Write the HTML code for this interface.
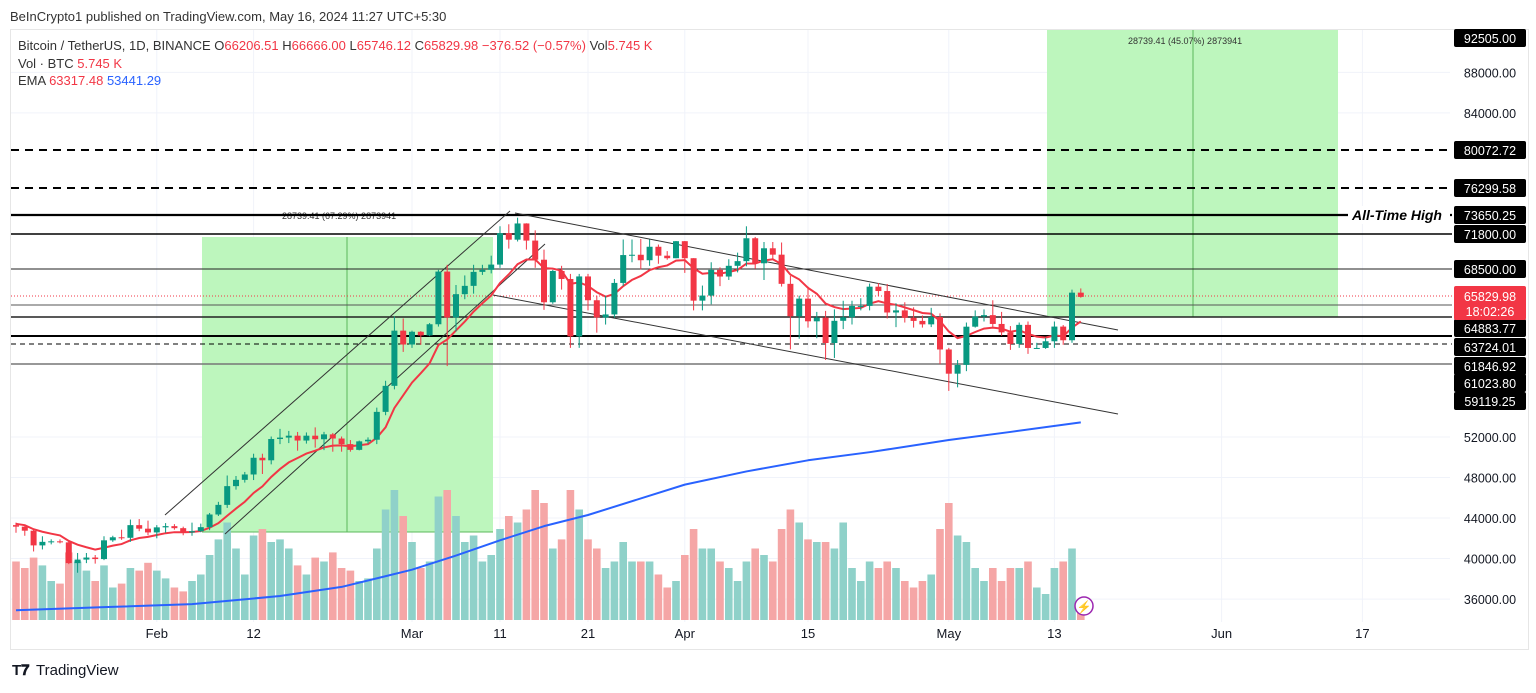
<!DOCTYPE html>
<html><head><meta charset="utf-8"><style>
body{margin:0;background:#fff;width:1536px;height:688px;overflow:hidden;font-family:"Liberation Sans",sans-serif}
svg text{font-family:"Liberation Sans",sans-serif}
</style></head><body>
<svg id="c" width="1536" height="688" viewBox="0 0 1536 688" xmlns="http://www.w3.org/2000/svg">
<text x="10" y="21" font-size="13" fill="#333">BeInCrypto1 published on TradingView.com, May 16, 2024 11:27 UTC+5:30</text>
<rect x="10.5" y="29.5" width="1518" height="620" fill="none" stroke="#e6e6e6"/>
<g id="grid"></g>
<g id="boxes"></g>
<g id="vol"></g>
<g id="lines"></g>
<g id="ema"></g>
<g id="candles"></g>
<g id="axis"></g>
<g font-size="13">
<text x="18" y="50" fill="#333">Bitcoin / TetherUS, 1D, BINANCE <tspan fill="#333">O</tspan><tspan fill="#f23645">66206.51</tspan> <tspan fill="#333">H</tspan><tspan fill="#f23645">66666.00</tspan> <tspan fill="#333">L</tspan><tspan fill="#f23645">65746.12</tspan> <tspan fill="#333">C</tspan><tspan fill="#f23645">65829.98</tspan> <tspan fill="#f23645">−376.52 (−0.57%)</tspan> <tspan fill="#333">Vol</tspan><tspan fill="#f23645">5.745 K</tspan></text>
<text x="18" y="68" fill="#333">Vol · BTC <tspan fill="#f23645">5.745 K</tspan></text>
<text x="18" y="85" fill="#333">EMA <tspan fill="#f23645">63317.48</tspan> <tspan fill="#2962ff">53441.29</tspan></text>
</g>
<g>
<text x="12" y="675" font-size="15" font-weight="bold" fill="#131722">T𝟕</text>
<text x="36" y="675" font-size="15" fill="#131722">TradingView</text>
</g>
<circle cx="1084" cy="606" r="9" fill="#fff" stroke="#9c27b0" stroke-width="1.5"/>
<text x="1084" y="611" font-size="12" fill="#9c27b0" text-anchor="middle">⚡</text>
</svg>
<script>
const closes=[43150,42750,41300,41650,41700,41600,39550,39900,40100,39950,41800,42100,42050,43300,42950,42580,
43080,43200,43000,42580,42700,43100,44350,45300,47150,47770,48300,49950,49700,51800,51940,52130,51650,52130,51780,52260,51850,51300,50730,51570,51730,54480,57050,62500,61130,
62390,62030,63130,68330,63800,66100,66920,68300,68500,69020,72120,71480,73080,71390,69500,65300,68390,67600,61930,67850,65500,63800,64100,67210,69960,69990,69450,70780,69900,69650,71330,
69650,65460,65960,68500,67840,68900,69360,71620,69150,70630,70000,67120,63920,65660,63420,63790,61280,63470,63820,64940,64940,66840,66410,64290,64500,63770,63460,63120,63840,60640,
58250,59120,62890,63890,64030,63160,62330,61190,63070,60790,60790,61450,62900,61550,66250,65830];
const highs=[43550,43200,42950,42200,41900,41900,41700,40550,40550,40350,42200,42250,42850,43850,43900,43750,
43300,43500,43400,43150,43550,43450,44500,45600,48200,48150,48550,50350,50350,52050,52800,52600,52500,52450,52950,52500,52400,52050,51700,51650,51960,54900,57550,63900,63700,
62500,62450,63250,68500,69000,67000,67950,69000,69000,69900,72800,73000,73650,73100,72400,70500,68500,68900,68100,68100,68100,65950,65950,67600,71500,71500,71550,71500,71000,70350,71350,
71350,69650,66950,69250,68750,69550,70200,72800,71750,71250,71250,71200,67900,65950,66850,64350,64450,64600,65450,65450,65700,67150,67200,67100,65200,65300,64800,64000,64750,64200,
60800,59600,63300,64500,64600,65500,64350,62950,63300,63400,61300,61800,63400,63050,66550,66666];
const lows=[42550,42250,40700,40900,41400,41500,39450,38600,39550,39500,39850,41650,41850,41650,42700,42300,
42000,42550,42850,42300,42250,42600,42800,44200,45000,46800,47500,47750,48350,49300,51300,51400,50650,51350,50950,50700,50550,50550,50550,50680,51320,51300,54150,56700,60400,
60800,61100,61950,62900,59000,62400,65600,66150,68000,68150,68700,70600,71300,70500,68700,64550,65150,66550,60800,60800,64500,62300,63100,63780,66900,69250,68550,68900,69100,69500,69650,
68200,64500,64500,65100,66900,67500,68250,68850,68600,67500,69500,66850,60650,61700,62800,61750,59600,59800,62650,63100,64500,64500,65900,63700,62850,63300,62800,62800,62850,59200,
56550,56900,58500,62800,63400,62850,62000,60600,60800,60200,60700,60700,60800,61100,61300,65750];
const volumes=[45,40,48,42,30,28,52,45,38,30,42,25,28,40,38,44,
38,32,25,22,30,35,50,62,75,55,35,65,70,60,62,55,42,35,48,45,52,40,38,30,32,55,85,100,80,
60,40,45,95,100,80,60,65,45,50,70,80,75,85,100,90,55,62,100,85,62,55,40,45,60,45,45,45,35,25,30,
50,70,55,55,45,40,30,45,55,50,45,70,85,75,62,60,60,55,75,40,30,45,40,45,40,30,25,30,35,70,
90,65,60,40,30,40,30,40,40,45,25,20,40,45,55,6];
const ema200Days=[0,10,20,30,37,45,50,55,60,65,76,83,90,97,106,113,121];
const ema200Vals=[34900,35200,35500,36300,37200,38900,40300,41800,43200,44300,47300,48600,49700,50500,51700,52500,53441];
const xTickLabels=['Feb','12','Mar','11','21','Apr','15','May','13','Jun','17'];
const xTickDays=[16,27,45,55,65,76,90,106,118,137,153];
const yTicks=[88000,84000,52000,48000,44000,40000,36000];
const levelLabels=['92505.00','80072.72','76299.58','73650.25','71800.00','68500.00','64883.77','63724.01','61846.92','61023.80','59119.25'];
const levelLabelY=[38,150,188,215,234,269,328,347,366,383,401];

const NS='http://www.w3.org/2000/svg';
const X=d=>16+d*8.8;
const Y=p=>437-(p-52000)*0.01013;
function mk(tag,attrs,parent,txt){const e=document.createElementNS(NS,tag);for(const k in attrs)e.setAttribute(k,attrs[k]);if(txt!==undefined)e.textContent=txt;parent.appendChild(e);return e;}
const g=id=>document.getElementById(id);

xTickDays.forEach(d=>{const l=mk('line',{x1:X(d),x2:X(d),y1:30,y2:622,stroke:'#f0f3fa'},g('grid'));

});
yTicks.forEach(p=>{const l=mk('line',{x1:11,x2:1450,y1:Y(p),y2:Y(p),stroke:'#f0f3fa'},g('grid'));

});

let b=mk('rect',{x:202,y:237,width:291,height:295,fill:'#b9f5b9',opacity:0.95},g('boxes'));


mk('line',{x1:202,x2:493,y1:532,y2:532,stroke:'#5cb85c'},g('boxes'));
mk('line',{x1:347,x2:347,y1:237,y2:532,stroke:'#5cb85c'},g('boxes'));
let t=mk('text',{x:282,y:219,'font-size':9,fill:'#333'},g('boxes'),'28739.41 (67.29%) 2873941');


b=mk('rect',{x:1047,y:30,width:291,height:287,fill:'#b9f5b9',opacity:0.95},g('boxes'));


mk('line',{x1:1193,x2:1193,y1:30,y2:317,stroke:'#5cb85c'},g('boxes'));
t=mk('text',{x:1128,y:44,'font-size':9,fill:'#333'},g('boxes'),'28739.41 (45.07%) 2873941');



volumes.forEach((v,i)=>{const up=closes[i]>=(i?closes[i-1]:43300);const h=v*1.3;
const r=mk('rect',{x:X(i)-3.8,y:620-h,width:7.6,height:h,fill:up?'#8fd1c9':'#f5a6a6'},g('vol'));

});

const L=g('lines');
function hl(y,w,dash,col,name){const l=mk('line',{x1:11,x2:1452,y1:y,y2:y,stroke:col||'#000','stroke-width':w},L);if(dash)l.setAttribute('stroke-dasharray',dash);

}
hl(150,2,'8,6',null,'level-80072');
hl(188,2,'8,6',null,'level-76299');
hl(215,2.2,null,null,'ath-line-73650');
hl(234,1.5,null,null,'level-71800');
hl(269,1,null,'#222','level-68500');
hl(296,1,'1,2','#f23645','current-price-line');
hl(305,1,null,'#555','level-65500');
hl(317,1.5,null,'#222','level-64883');
hl(336,2,null,null,'level-63724');
hl(344,1,'5,4',null,'level-62900');
hl(364,1.5,null,'#777','level-61846');
mk('rect',{x:1348,y:206,width:102,height:18,fill:'#fff'},L);
t=mk('text',{x:1352,y:220,'font-size':14,'font-weight':'bold','font-style':'italic',fill:'#000'},L,'All-Time High');


[[165,515,510,211,'channel-up-top'],[225,534,545,244,'channel-up-bottom'],[515,213,1118,330,'channel-down-top'],[493,295,1118,414,'channel-down-bottom']].forEach(a=>{
const l=mk('line',{x1:a[0],y1:a[1],x2:a[2],y2:a[3],stroke:'#333','stroke-width':1},L);

});

let e=43500,pts=[];closes.forEach((c,i)=>{e=e+(c-e)*0.2;pts.push(X(i)+','+Y(e));});
let pl=mk('polyline',{points:pts.join(' '),fill:'none',stroke:'#f23645','stroke-width':2},g('ema'));


pl=mk('polyline',{points:ema200Days.map((d,i)=>X(d)+','+Y(ema200Vals[i])).join(' '),fill:'none',stroke:'#2962ff','stroke-width':2,'stroke-linejoin':'round'},g('ema'));



closes.forEach((c,i)=>{const o=i?closes[i-1]:43300;const up=c>=o;const col=up?'#089981':'#f23645';
const cg=mk('g',{},g('candles'));


mk('line',{x1:X(i),x2:X(i),y1:Y(highs[i]),y2:Y(lows[i]),stroke:col,'stroke-width':1},cg);
const y1=Y(Math.max(o,c)),y2=Y(Math.min(o,c));
mk('rect',{x:X(i)-3,y:y1,width:6,height:Math.max(1,y2-y1),fill:col},cg);});

const A=g('axis');
xTickLabels.forEach((s,i)=>{const tx=mk('text',{x:X(xTickDays[i]),y:638,'font-size':13,fill:'#131722','text-anchor':'middle'},A,s);

});
yTicks.forEach(p=>{const tx=mk('text',{x:1490,y:Y(p)+5,'font-size':12.5,fill:'#131722','text-anchor':'middle'},A,p.toFixed(2));

});
levelLabels.forEach((s,i)=>{const y=levelLabelY[i];
const r=mk('rect',{x:1454,y:y-9,width:72,height:18,fill:'#000',rx:2},A);


const tx=mk('text',{x:1490,y:y+5,'font-size':12.5,fill:'#fff','text-anchor':'middle'},A,s);

});
const pr=mk('rect',{x:1454,y:286,width:72,height:34,fill:'#f23645',rx:2},A);


let tx=mk('text',{x:1490,y:301,'font-size':12.5,fill:'#fff','text-anchor':'middle'},A,'65829.98');


tx=mk('text',{x:1490,y:316,'font-size':12.5,fill:'#fff','text-anchor':'middle'},A,'18:02:26');


</script>
</body></html>
